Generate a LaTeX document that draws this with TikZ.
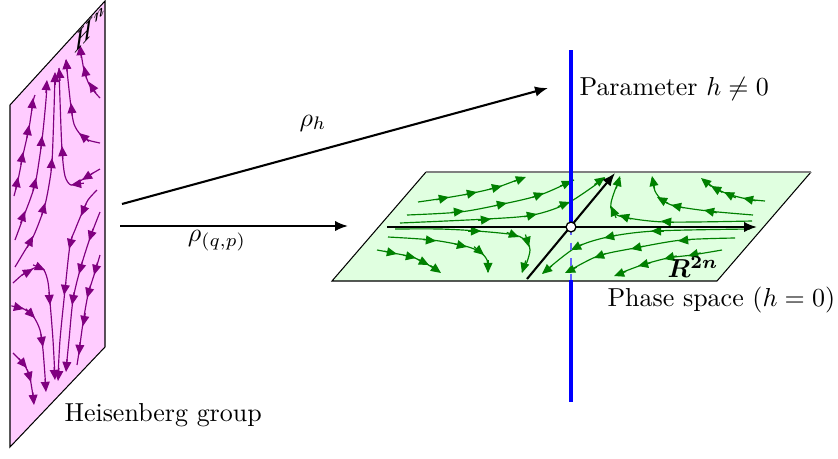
\documentclass[tikz,border=0pt]{standalone}
\usepackage{bm}
\usetikzlibrary{arrows.meta,calc}
\definecolor{heis}{RGB}{255,204,255}
\definecolor{flowp}{RGB}{128,0,128}
\definecolor{phase}{RGB}{224,255,224}
\definecolor{flowg}{RGB}{0,128,0}
\tikzset{
  pflow/.style={draw=flowp, line width=0.45pt},
  gflow/.style={draw=flowg, line width=0.45pt},
  ptip/.style={draw=flowp, fill=flowp, line width=0.45pt, -{Triangle[length=3.9pt,width=3.4pt]}},
  gtip/.style={draw=flowg, fill=flowg, line width=0.45pt, -{Triangle[length=3.9pt,width=3.4pt]}},
  maparrow/.style={line width=0.8pt, -{Latex[length=5pt,width=4pt]}},
  axis/.style={line width=0.8pt, -{Latex[length=5pt,width=4pt]}},
  lbl/.style={inner sep=0pt},
}
\newcommand{\ftip}[3]{\draw[#1] ($#3!5pt!#2$) -- #3;}
\begin{document}
\begin{tikzpicture}[x=0.385pt,y=-0.385pt]
\useasboundingbox (0,0) rectangle (838,458);

% ---------- Heisenberg plane ----------
\draw[fill=heis, line width=0.4pt] (10,105) -- (105,1) -- (105,347) -- (10,447) -- cycle;

\draw[pflow] plot[smooth] coordinates {(100,98) (90,86) (84,70) (80,46)};
\ftip{ptip}{(81,55)}{(80,45)} \ftip{ptip}{(86,76)}{(84,66)} \ftip{ptip}{(94,90)}{(89,82)}

\draw[pflow] plot[smooth] coordinates {(100,143) (88,140) (80,134) (74,124) (71,107) (68,80) (66,60)};
\ftip{ptip}{(67,70)}{(66,59)} \ftip{ptip}{(72,113)}{(71,103)} \ftip{ptip}{(86,139)}{(79,133)}

\draw[pflow] plot[smooth] coordinates {(100,169) (88,176) (80,181) (71,185) (65,176) (62,150) (60,100) (59,68)};
\ftip{ptip}{(90,175)}{(82,180)} \ftip{ptip}{(78,184)}{(71,185)} \ftip{ptip}{(63,160)}{(62,146)} \ftip{ptip}{(60,80)}{(59,68)}

\draw[pflow] plot[smooth] coordinates {(15,267) (24,252) (33,237) (40,220) (45,205) (49,185) (52,162) (54,110) (55,75)};
\ftip{ptip}{(28,246)}{(33,236)} \ftip{ptip}{(42,214)}{(45,203)} \ftip{ptip}{(51,172)}{(52,158)} \ftip{ptip}{(55,85)}{(55,72)}

\draw[pflow] plot[smooth] coordinates {(15,240) (25,213) (31,197) (36,180) (42,140) (46,100) (47,82)};
\ftip{ptip}{(21,222)}{(25,211)} \ftip{ptip}{(33,190)}{(36,178)} \ftip{ptip}{(41,148)}{(42,136)} \ftip{ptip}{(46,92)}{(47,80)}

\draw[pflow] plot[smooth] coordinates {(14,196) (18,180) (23,155) (29,128) (33,102) (35,95)};
\ftip{ptip}{(16,188)}{(18,177)} \ftip{ptip}{(21,164)}{(23,152)} \ftip{ptip}{(27,137)}{(29,125)} \ftip{ptip}{(32,108)}{(33,98)}

\draw[pflow] plot[smooth] coordinates {(13,283) (22,275) (30,270) (38,267) (44,270) (48,282) (50,302) (53,340) (55,378)};
\ftip{ptip}{(24,274)}{(33,269)} \ftip{ptip}{(38,267)}{(45,270)} \ftip{ptip}{(49,292)}{(50,305)} \ftip{ptip}{(54,366)}{(55,380)}

\draw[pflow] plot[smooth] coordinates {(14,307) (22,308) (33,316) (40,330) (43,350) (46,390)};
\ftip{ptip}{(16,307)}{(24,309)} \ftip{ptip}{(29,312)}{(35,318)} \ftip{ptip}{(41,335)}{(43,347)} \ftip{ptip}{(45,378)}{(46,392)}

\draw[pflow] plot[smooth] coordinates {(13,353) (18,358) (25,366) (30,378) (34,403)};
\ftip{ptip}{(21,361)}{(27,368)} \ftip{ptip}{(28,372)}{(31,382)} \ftip{ptip}{(33,394)}{(34,405)}

\draw[pflow] plot[smooth] coordinates {(97,190) (88,200) (82,213) (75,230) (70,245) (65,290) (60,340) (58,378)};
\ftip{ptip}{(86,204)}{(81,216)} \ftip{ptip}{(72,237)}{(69,249)} \ftip{ptip}{(66,281)}{(64,295)} \ftip{ptip}{(59,368)}{(58,381)}

\draw[pflow] plot[smooth] coordinates {(100,212) (90,238) (80,270) (73,300) (69,340) (66,370)};
\ftip{ptip}{(93,229)}{(89,241)} \ftip{ptip}{(82,263)}{(79,274)} \ftip{ptip}{(74,293)}{(72,305)} \ftip{ptip}{(67,360)}{(66,372)}

\draw[pflow] plot[smooth] coordinates {(100,255) (95,272) (88,295) (83,323) (79,352) (77,365)};
\ftip{ptip}{(97,264)}{(94,275)} \ftip{ptip}{(90,287)}{(87,298)} \ftip{ptip}{(85,315)}{(83,326)} \ftip{ptip}{(80,343)}{(79,355)}

\node[lbl, cm={0.69,0.75,0,1,(0,0)}] (hn) at (90,29) {$\bm{H^n}$};

% ---------- Phase space plane ----------
\fill[phase] (332,281) -- (426,172) -- (811,172) -- (717,281) -- cycle;

\draw[gflow] plot[smooth] coordinates {(418,202) (445,198) (473,193) (498,187) (522,178)};
\ftip{gtip}{(440,199)}{(449,197)} \ftip{gtip}{(468,194)}{(477,192)} \ftip{gtip}{(494,188)}{(502,186)} \ftip{gtip}{(518,180)}{(526,177)}

\draw[gflow] plot[smooth] coordinates {(407,215) (460,212) (503,204) (540,195) (574,180)};
\ftip{gtip}{(455,212)}{(464,211)} \ftip{gtip}{(498,205)}{(507,203)} \ftip{gtip}{(536,196)}{(544,193)} \ftip{gtip}{(565,184)}{(572,181)}

\draw[gflow] plot[smooth] coordinates {(400,223) (487,219) (533,215) (568,203) (605,178)};
\ftip{gtip}{(482,220)}{(491,219)} \ftip{gtip}{(528,216)}{(537,214)} \ftip{gtip}{(562,205)}{(570,202)} \ftip{gtip}{(598,182)}{(605,177)}

\draw[gflow] plot[smooth] coordinates {(395,229) (440,229) (477,231) (515,235) (527,242) (530,250) (527,262) (522,272)};
\ftip{gtip}{(472,231)}{(481,231)} \ftip{gtip}{(511,234)}{(519,237)} \ftip{gtip}{(527,240)}{(529,247)} \ftip{gtip}{(525,263)}{(522,273)}

\draw[gflow] plot[smooth] coordinates {(388,237) (432,240) (465,246) (480,252) (487,260) (488,272)};
\ftip{gtip}{(427,240)}{(436,241)} \ftip{gtip}{(459,245)}{(467,247)} \ftip{gtip}{(478,250)}{(484,255)} \ftip{gtip}{(488,263)}{(488,273)}

\draw[gflow] plot[smooth] coordinates {(377,250) (393,253) (412,257) (425,263) (438,271)};
\ftip{gtip}{(388,252)}{(397,254)} \ftip{gtip}{(407,256)}{(416,258)} \ftip{gtip}{(421,261)}{(429,265)} \ftip{gtip}{(434,268)}{(441,273)}

\draw[gflow] plot[smooth] coordinates {(765,201) (747,199) (728,194) (715,188) (703,180)};
\ftip{gtip}{(752,200)}{(743,198)} \ftip{gtip}{(732,196)}{(724,192)} \ftip{gtip}{(718,190)}{(711,186)} \ftip{gtip}{(707,183)}{(701,178)}

\draw[gflow] plot[smooth] coordinates {(753,215) (708,211) (675,206) (662,200) (655,191) (652,178)};
\ftip{gtip}{(713,212)}{(704,210)} \ftip{gtip}{(680,207)}{(671,205)} \ftip{gtip}{(664,201)}{(657,197)} \ftip{gtip}{(654,186)}{(652,176)}

\draw[gflow] plot[smooth] coordinates {(752,221) (665,222) (623,217) (612,211) (611,203) (615,190) (620,178)};
\ftip{gtip}{(670,222)}{(661,221)} \ftip{gtip}{(628,218)}{(619,215)} \ftip{gtip}{(614,213)}{(611,206)} \ftip{gtip}{(617,186)}{(620,176)}

\draw[gflow] plot[smooth] coordinates {(750,229) (655,231) (608,237) (575,248) (543,273)};
\ftip{gtip}{(660,231)}{(651,231)} \ftip{gtip}{(613,236)}{(604,238)} \ftip{gtip}{(579,246)}{(571,250)} \ftip{gtip}{(548,269)}{(542,274)}

\draw[gflow] plot[smooth] coordinates {(735,238) (682,240) (635,248) (598,256) (567,272)};
\ftip{gtip}{(687,240)}{(678,241)} \ftip{gtip}{(640,247)}{(631,249)} \ftip{gtip}{(602,255)}{(594,258)} \ftip{gtip}{(571,270)}{(565,273)}

\draw[gflow] plot[smooth] coordinates {(722,250) (692,255) (668,258) (642,265) (618,274)};
\ftip{gtip}{(696,254)}{(688,256)} \ftip{gtip}{(672,257)}{(664,259)} \ftip{gtip}{(646,264)}{(638,266)} \ftip{gtip}{(622,273)}{(614,276)}

\draw[line width=0.4pt] (426,172) -- (332,281) -- (717,281) -- (811,172);
\draw[gray, line width=0.8pt] (426,172) -- (811,172);

% ---------- vertical parameter axis ----------
\coordinate (vtop) at (571,50);
\coordinate (o) at (571,227);
\coordinate (pbot) at (571,280);
\coordinate (vbot) at (571,402);
\draw[blue, line width=1.55pt] (vtop) -- (o);
\draw[blue!60, dashed, line width=0.5pt] (o) -- (pbot);
\draw[blue, line width=1.55pt] (pbot) -- (vbot);

% ---------- axes in phase space ----------
\coordinate (xs) at (387,227);
\coordinate (xe) at (757,227);
\coordinate (ys) at (527,279);
\coordinate (ye) at (615,173);
\draw[axis] (xs) -- (xe);
\draw[axis] (ys) -- (ye);
\node[circle, draw, fill=white, line width=0.5pt, minimum size=3.8pt, inner sep=0pt] (origin) at (o) {};

\node[lbl] (r2n) at (693,267) {$\bm{R^{2n}}$};

% ---------- maps ----------
\coordinate (h1) at (122,204);
\coordinate (h2) at (548,88);
\coordinate (q1) at (120,226);
\coordinate (q2) at (348,226);
\draw[maparrow] (h1) -- (h2);
\draw[maparrow] (q1) -- (q2);
\node[lbl] (rhoh) at (313,123) {$\rho_h$};
\node[lbl] (rhoqp) at (217,241) {$\rho_{(q,p)}$};

% ---------- labels ----------
\node[lbl, anchor=base west] (param) at (579,95) {Parameter $h \neq 0$};
\node[lbl, anchor=base west] (phs) at (607,306) {Phase space ($h=0$)};
\node[lbl, anchor=base west] (heis) at (64,421) {Heisenberg group};
\end{tikzpicture}
\end{document}
